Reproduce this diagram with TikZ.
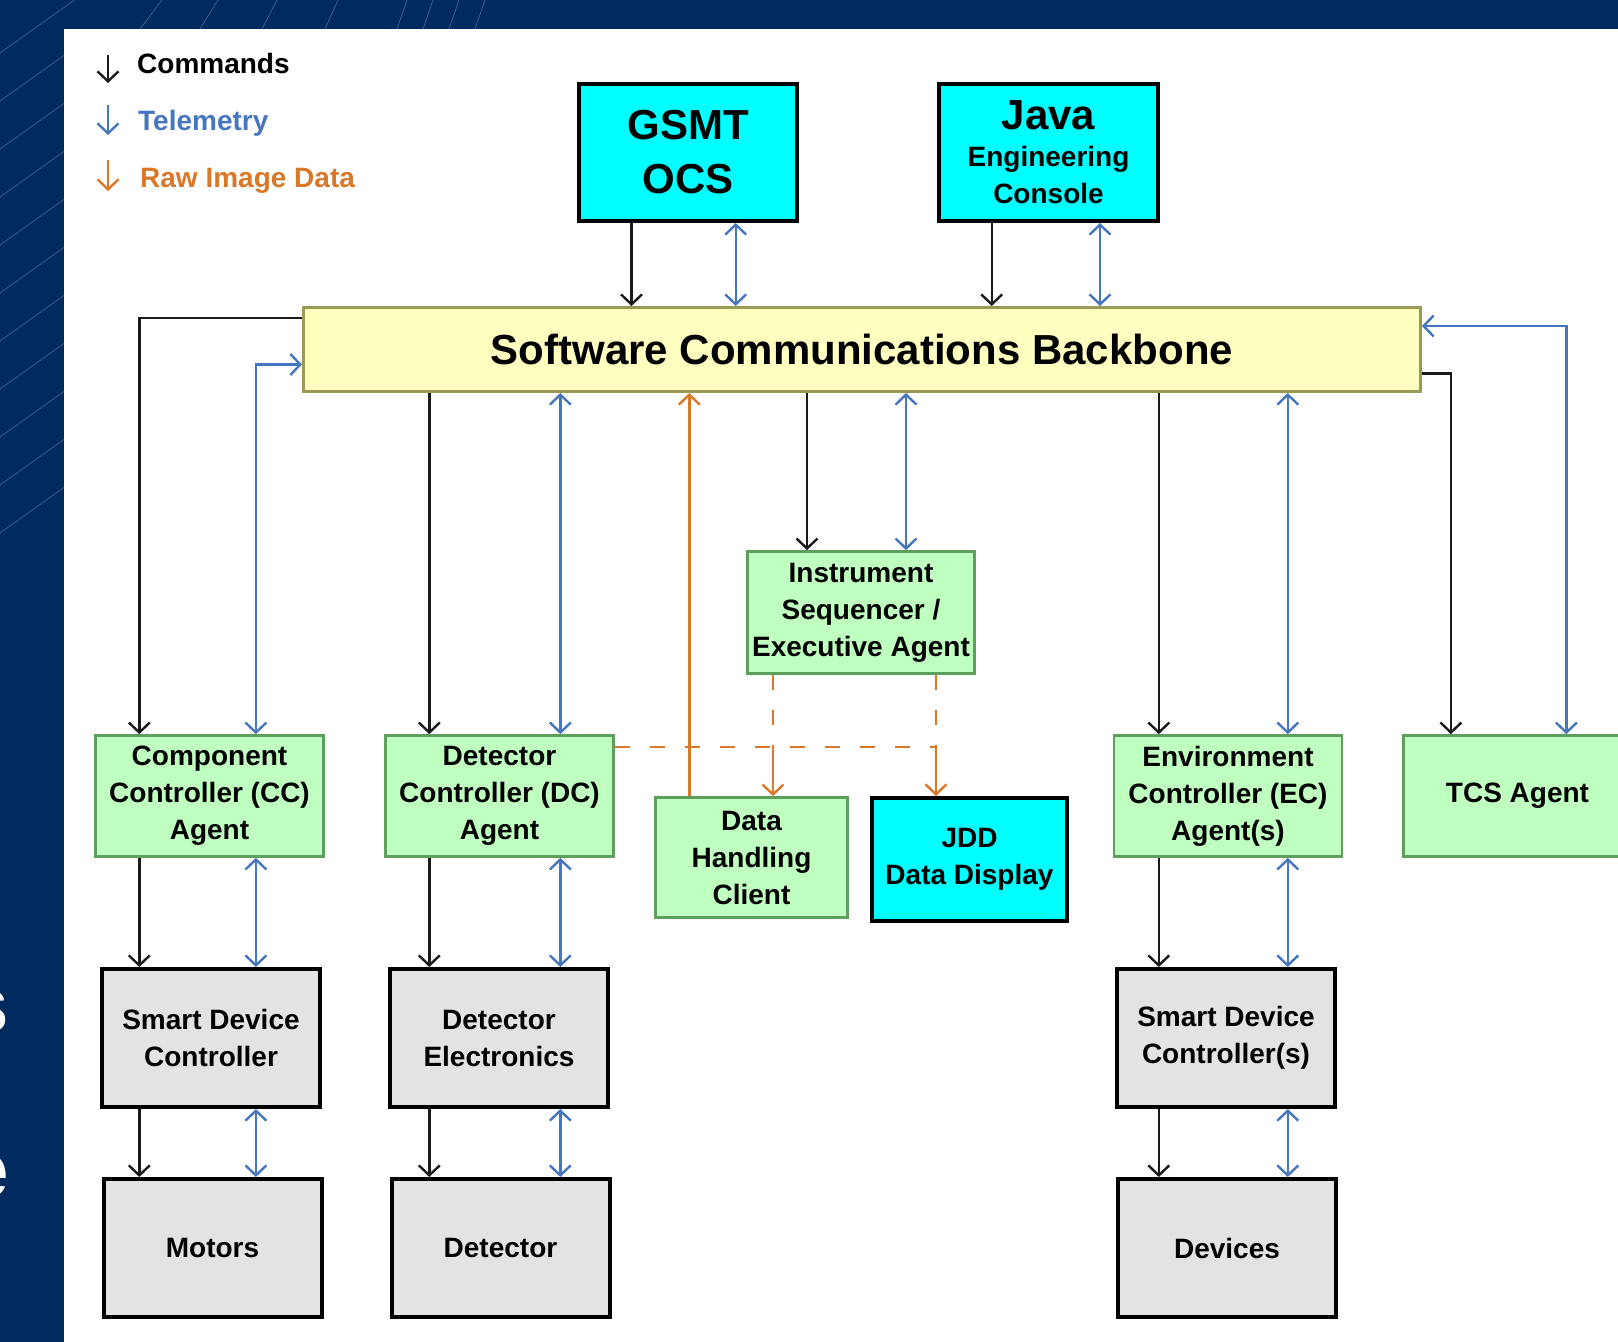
\documentclass[tikz,border=0pt]{standalone}
\usepackage{fontspec}
\setmainfont{Liberation Sans}
\usetikzlibrary{arrows.meta}
\definecolor{slidebg}{HTML}{012A5E}
\definecolor{cmdcol}{HTML}{1A1A1A}
\definecolor{telcol}{HTML}{4677BE}
\definecolor{rawcol}{HTML}{D97828}
\definecolor{agentfill}{HTML}{BFFFBF}
\definecolor{agentline}{HTML}{5CA05C}
\definecolor{busfill}{HTML}{FFFFC0}
\definecolor{busline}{HTML}{9A9A55}
\definecolor{hwfill}{HTML}{E3E3E3}
\definecolor{uicyan}{RGB}{0,255,255}
\begin{document}
\begin{tikzpicture}[x=1pt,y=-1pt,
    >={Straight Barb[length=10pt,width=21pt]},
    every node/.style={font=\bfseries\fontsize{28}{37}\selectfont,align=center,inner sep=0pt},
    agent/.style={draw=agentline,fill=agentfill,line width=2.7pt,minimum width=228pt,minimum height=121pt},
    hw/.style={draw=black,fill=hwfill,line width=4pt,minimum width=218pt,minimum height=138pt},
    ui/.style={draw=black,fill=uicyan,line width=4pt},
    cmd/.style={draw=cmdcol,line width=2.4pt,->},
    tel/.style={draw=telcol,line width=2.4pt,<->},
    raw/.style={draw=rawcol,line width=2.4pt},
    rawdash/.style={raw,dash pattern=on 15pt off 20pt}]
  \useasboundingbox (0,0) rectangle (1618,1342);
  % slide behind the diagram
  \fill[slidebg] (0,0) rectangle (1618,1342);
  \foreach \i in {0,...,10}
    \draw[white,opacity=.3,line width=.6pt] (0,53+48*\i) -- ++(90,-64);
  \foreach \xb/\d in {140/22,200/18,262/15,325/13,397/10,423/10,449/10,475/10}
    \draw[white,opacity=.3,line width=.6pt] (\xb,29) -- (\xb+\d,0);
  \node[text=white,font=\bfseries\fontsize{80}{80}\selectfont,anchor=base east] (cuts) at (9,1032) {s};
  \node[text=white,font=\bfseries\fontsize{80}{80}\selectfont,anchor=base east] (cute) at (9,1197) {e};
  \fill[white] (64,29) rectangle (1618,1342);

  % legend
  \node[anchor=base west] (lcmd) at (137,73) {Commands};
  \node[anchor=base west,text=telcol] (ltel) at (138,130) {Telemetry};
  \node[anchor=base west,text=rawcol] (lraw) at (140,187) {Raw Image Data};
  \draw[cmd] ([xshift=-29pt,yshift=18pt]lcmd.base west) -- ++(0,28);
  \draw[tel,->] ([xshift=-30pt,yshift=25pt]ltel.base west) -- ++(0,30);
  \draw[raw,->] ([xshift=-32pt,yshift=27pt]lraw.base west) -- ++(0,31);

  % boxes
  \node[ui,minimum width=218pt,minimum height=137pt,font=\bfseries\fontsize{42}{54}\selectfont] (ocs) at (688,152.5) {GSMT\\OCS};
  \node[ui,minimum width=219pt,minimum height=137pt] (jec) at (1048.5,152.5) {{\fontsize{42}{42}\selectfont Java}\\Engineering\\Console};
  \node[draw=busline,fill=busfill,line width=3pt,minimum width=1117pt,minimum height=84pt,font=\bfseries\fontsize{42}{50}\selectfont] (bus) at (862,349.5) {Software Communications Backbone};
  \node[agent,minimum width=227pt,minimum height=122pt] (seq) at (861,612.5) {Instrument\\Sequencer /\\Executive Agent};
  \node[agent] (cca) at (209.5,796) {Component\\Controller (CC)\\Agent};
  \node[agent] (dca) at (499.5,796) {Detector\\Controller (DC)\\Agent};
  \node[agent,minimum width=192pt,minimum height=120pt] (dhc) at (751.5,857.5) {Data\\Handling\\Client};
  \node[ui,minimum width=195pt,minimum height=123pt] (jdd) at (969.5,859.5) {JDD\\Data Display};
  \node[agent] (eca) at (1228,796) {Environment\\Controller (EC)\\Agent(s)};
  \node[agent] (tcs) at (1517.5,796) {TCS Agent};
  \node[hw] (sdc) at (211,1038) {Smart Device\\Controller};
  \node[hw] (dce) at (499,1038) {Detector\\Electronics};
  \node[hw] (sdcs) at (1226,1038) {Smart Device\\Controller(s)};
  \node[hw] (mot) at (212.5,1248) {Motors};
  \node[hw] (det) at (500.5,1248) {Detector};
  \node[hw] (dev) at (1227,1248) {Devices};

  % consoles to backbone
  \draw[cmd] ([xshift=-56.5pt]ocs.south) -- ([xshift=-56.5pt]ocs.south |- bus.north);
  \draw[tel] ([xshift=47.7pt]ocs.south) -- ([xshift=47.7pt]ocs.south |- bus.north);
  \draw[cmd] ([xshift=-56.8pt]jec.south) -- ([xshift=-56.8pt]jec.south |- bus.north);
  \draw[tel] ([xshift=51.5pt]jec.south) -- ([xshift=51.5pt]jec.south |- bus.north);

  % backbone to agents
  \draw[cmd] ([yshift=-12pt]bus.north west) -| ([xshift=-70.2pt]cca.north);
  \draw[tel] ([yshift=-15pt]bus.west) -| ([xshift=46.4pt]cca.north);
  \draw[cmd] ([xshift=-70.2pt]dca.north |- bus.south) -- ([xshift=-70.2pt]dca.north);
  \draw[tel] ([xshift=60.8pt]dca.north |- bus.south) -- ([xshift=60.8pt]dca.north);
  \draw[cmd] ([xshift=-54pt]seq.north |- bus.south) -- ([xshift=-54pt]seq.north);
  \draw[tel] ([xshift=45pt]seq.north |- bus.south) -- ([xshift=45pt]seq.north);
  \draw[cmd] ([xshift=-69.2pt]eca.north |- bus.south) -- ([xshift=-69.2pt]eca.north);
  \draw[tel] ([xshift=59.8pt]eca.north |- bus.south) -- ([xshift=59.8pt]eca.north);
  \draw[cmd] ([yshift=-24pt]bus.east) -| ([xshift=-66.6pt]tcs.north);
  \draw[tel] ([yshift=23.5pt]bus.east) -| ([xshift=48.9pt]tcs.north);

  % agents to hardware
  \draw[cmd] ([xshift=-70.2pt]cca.south) -- ([xshift=-70.2pt]cca.south |- sdc.north);
  \draw[tel] ([xshift=46.4pt]cca.south) -- ([xshift=46.4pt]cca.south |- sdc.north);
  \draw[cmd] ([xshift=-71.7pt]sdc.south) -- ([xshift=-71.7pt]sdc.south |- mot.north);
  \draw[tel] ([xshift=44.9pt]sdc.south) -- ([xshift=44.9pt]sdc.south |- mot.north);
  \draw[cmd] ([xshift=-70.2pt]dca.south) -- ([xshift=-70.2pt]dca.south |- dce.north);
  \draw[tel] ([xshift=60.8pt]dca.south) -- ([xshift=60.8pt]dca.south |- dce.north);
  \draw[cmd] ([xshift=-69.7pt]dce.south) -- ([xshift=-69.7pt]dce.south |- det.north);
  \draw[tel] ([xshift=61.3pt]dce.south) -- ([xshift=61.3pt]dce.south |- det.north);
  \draw[cmd] ([xshift=-69.2pt]eca.south) -- ([xshift=-69.2pt]eca.south |- sdcs.north);
  \draw[tel] ([xshift=59.8pt]eca.south) -- ([xshift=59.8pt]eca.south |- sdcs.north);
  \draw[cmd] ([xshift=-67.2pt]sdcs.south) -- ([xshift=-67.2pt]sdcs.south |- dev.north);
  \draw[tel] ([xshift=61.8pt]sdcs.south) -- ([xshift=61.8pt]sdcs.south |- dev.north);

  % raw image data
  \coordinate (rj1) at (773,747);
  \coordinate (rj2) at (936,747);
  \draw[rawdash] ([yshift=49pt]dca.east) -- (rj2);
  \draw[rawdash] (seq.south -| rj1) -- (rj1);
  \draw[rawdash] (seq.south -| rj2) -- (rj2);
  \draw[raw,->] (rj1) -- (dhc.north -| rj1);
  \draw[raw,->] (rj2) -- (jdd.north -| rj2);
  \draw[raw,->] ([xshift=-62.2pt]dhc.north) -- ([xshift=-62.2pt]dhc.north |- bus.south);
\end{tikzpicture}
\end{document}
